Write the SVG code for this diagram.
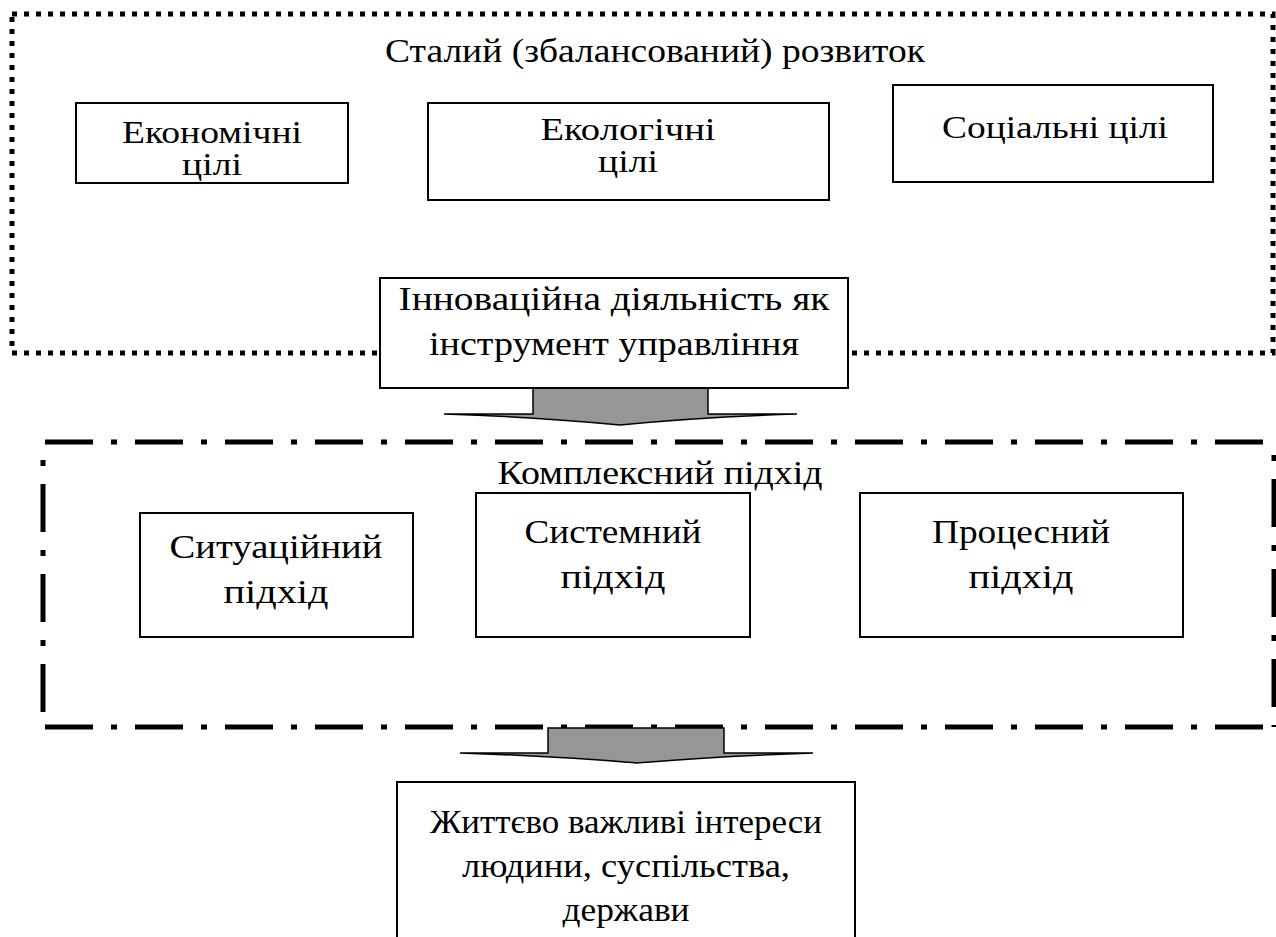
<svg xmlns="http://www.w3.org/2000/svg" width="1276" height="937" viewBox="0 0 1276 937">
<style>
text{font-family:"Liberation Serif","Times New Roman",serif;font-size:33px;fill:#000;text-anchor:middle}
text.t{font-size:31px}
.box{fill:#fff;stroke:#000;stroke-width:2}
.dotted{fill:none;stroke:#000;stroke-width:5;stroke-dasharray:5 7}
.dashdot{fill:none;stroke:#000;stroke-width:5;stroke-dasharray:48 18 6 18}
.arrow{fill:#969696;stroke:#000;stroke-width:1.5;stroke-linejoin:miter}
</style>
<rect width="1276" height="937" fill="#fff"/>
<g id="frame-sustainable">
<rect class="dotted" x="12" y="14" width="1261" height="339"/>
<text x="655" y="62" textLength="540" lengthAdjust="spacingAndGlyphs">Сталий (збалансований) розвиток</text>
</g>
<g id="economic">
<rect class="box" x="76" y="103" width="272" height="80"/>
<text class="t" x="212" y="143" textLength="180" lengthAdjust="spacingAndGlyphs">Економічні</text>
<text class="t" x="212" y="175" textLength="60" lengthAdjust="spacingAndGlyphs">цілі</text>
</g>
<g id="ecological">
<rect class="box" x="428" y="103" width="401" height="97"/>
<text class="t" x="628" y="140" textLength="175" lengthAdjust="spacingAndGlyphs">Екологічні</text>
<text class="t" x="628" y="172" textLength="60" lengthAdjust="spacingAndGlyphs">цілі</text>
</g>
<g id="social">
<rect class="box" x="893" y="85" width="320" height="97"/>
<text class="t" x="1055" y="138" textLength="226" lengthAdjust="spacingAndGlyphs">Соціальні цілі</text>
</g>
<g id="frame-complex">
<line class="dashdot" x1="45" y1="442" x2="1274" y2="442"/>
<line class="dashdot" x1="45" y1="727" x2="1274" y2="727"/>
<line class="dashdot" x1="43" y1="442" x2="43" y2="727" stroke-dashoffset="48"/>
<line class="dashdot" x1="1274" y1="442" x2="1274" y2="727" stroke-dashoffset="53"/>
</g>
<g id="connectors">
<path class="arrow" d="M533,388 L708,388 L708,414 L797,414 Q700,417 620,425 Q540,417 444,414 L533,414 Z"/>
<path class="arrow" d="M548,728 L724,728 L724,753 L813,753 Q720,756 637,763 Q553,756 460,753 L548,753 Z"/>
</g>
<g id="innovation">
<rect class="box" x="380" y="278" width="468" height="110"/>
<text x="614" y="310" textLength="431" lengthAdjust="spacingAndGlyphs">Інноваційна діяльність як</text>
<text x="614" y="355" textLength="370" lengthAdjust="spacingAndGlyphs">інструмент управління</text>
</g>
<g id="situational">
<rect class="box" x="140" y="513" width="273" height="124"/>
<text x="276" y="558" textLength="213" lengthAdjust="spacingAndGlyphs">Ситуаційний</text>
<text x="276" y="603" textLength="105" lengthAdjust="spacingAndGlyphs">підхід</text>
</g>
<g id="systemic">
<rect class="box" x="476" y="493" width="274" height="144"/>
<text x="613" y="543" textLength="177" lengthAdjust="spacingAndGlyphs">Системний</text>
<text x="613" y="588" textLength="105" lengthAdjust="spacingAndGlyphs">підхід</text>
</g>
<g id="process">
<rect class="box" x="860" y="493" width="323" height="144"/>
<text x="1021" y="543" textLength="178" lengthAdjust="spacingAndGlyphs">Процесний</text>
<text x="1021" y="588" textLength="105" lengthAdjust="spacingAndGlyphs">підхід</text>
</g>
<g id="complex-label">
<text x="660" y="484" textLength="325" lengthAdjust="spacingAndGlyphs">Комплексний підхід</text>
</g>
<g id="vital-interests">
<path class="box" d="M397,937 L397,782 L855,782 L855,937"/>
<text x="626" y="833" textLength="392" lengthAdjust="spacingAndGlyphs">Життєво важливі інтереси</text>
<text x="626" y="877" textLength="328" lengthAdjust="spacingAndGlyphs">людини, суспільства,</text>
<text x="626" y="921" textLength="127" lengthAdjust="spacingAndGlyphs">держави</text>
</g>
</svg>
